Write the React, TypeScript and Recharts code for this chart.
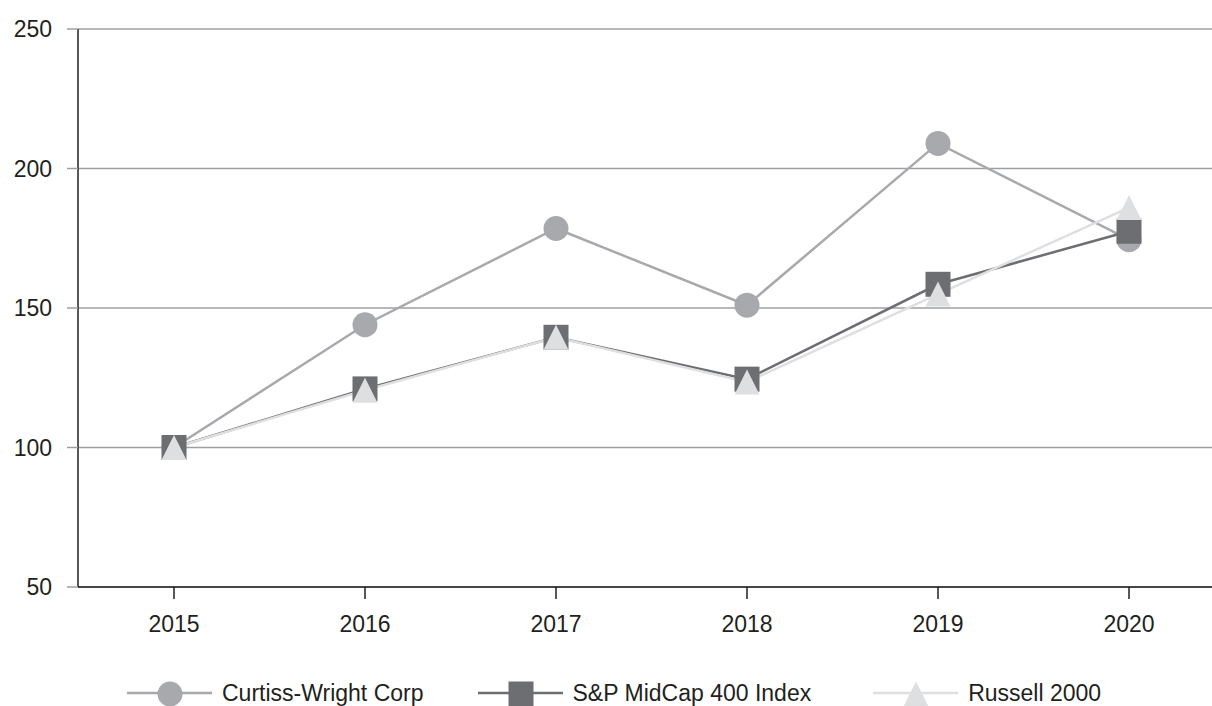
import { LineChart, Line, XAxis, YAxis, CartesianGrid, Legend } from "recharts";

const YEARS = ["2015", "2016", "2017", "2018", "2019", "2020"];
const CURTISS = [100, 144, 178.5, 151, 209, 174.5];
const MIDCAP = [100, 121, 139.5, 124.5, 158.5, 177.5];
const RUSSELL = [100, 120.5, 139.5, 123.5, 155, 186];
const Y_TICKS = [50, 100, 150, 200, 250];

const SERIES = [
  { key: "curtiss", name: "Curtiss-Wright Corp", color: "#a7a9ac", shape: "circle", gap: 0 },
  { key: "midcap", name: "S&P MidCap 400 Index", color: "#6d6e71", shape: "square", gap: 54 },
  { key: "russell", name: "Russell 2000", color: "#dedfe0", shape: "triangle", gap: 62 },
];

const data = YEARS.map((year, i) => ({
  year,
  curtiss: CURTISS[i],
  midcap: MIDCAP[i],
  russell: RUSSELL[i],
}));

const TEXT = "#231f20";
const FONT = "'Liberation Sans', Arial, sans-serif";

const Marker = ({ shape, cx, cy, color }: { shape: string; cx: number; cy: number; color: string }) => {
  if (shape === "circle") return <circle cx={cx} cy={cy} r={12.5} fill={color} />;
  if (shape === "square") return <rect x={cx - 12.5} y={cy - 12.5} width={25} height={25} fill={color} />;
  return (
    <polygon
      points={`${cx},${cy - 12.5} ${cx - 12.5},${cy + 12.5} ${cx + 12.5},${cy + 12.5}`}
      fill={color}
    />
  );
};

const makeDot = (shape: string, color: string) => (props: any) => {
  const { cx, cy, index } = props;
  if (cx == null || cy == null) return <g key={index} />;
  return <Marker key={index} shape={shape} cx={cx} cy={cy} color={color} />;
};

const renderLegend = () => (
  <div style={{ display: "flex", alignItems: "center", fontFamily: FONT, fontSize: 23, color: TEXT }}>
    {SERIES.map((s) => (
      <div key={s.key} style={{ display: "flex", alignItems: "center", marginLeft: s.gap }}>
        <svg width={85} height={30} style={{ display: "block" }}>
          <line x1={0} y1={15} x2={85} y2={15} stroke={s.color} strokeWidth={2.5} />
          <Marker shape={s.shape} cx={43} cy={16} color={s.color} />
        </svg>
        <span style={{ marginLeft: 10, whiteSpace: "nowrap" }}>{s.name}</span>
      </div>
    ))}
  </div>
);

export default function App() {
  return (
    <div style={{ position: "absolute", left: 0, top: 0, width: 1212, height: 706, overflow: "hidden", background: "#fff" }}>
      <LineChart width={1212} height={706} data={data} margin={{ top: 29, right: 0, bottom: 79, left: 0 }}>
        <CartesianGrid horizontal vertical={false} stroke="#9d9fa2" strokeWidth={1.5} />
        <XAxis
          dataKey="year"
          padding={{ left: 96, right: 83 }}
          height={40}
          axisLine={{ stroke: TEXT, strokeWidth: 1.5 }}
          tickLine={{ stroke: TEXT, strokeWidth: 1.5 }}
          tickSize={12}
          tickMargin={17}
          tick={{ fill: TEXT, fontSize: 23, fontFamily: FONT }}
        />
        <YAxis
          domain={[50, 250]}
          ticks={Y_TICKS}
          width={78}
          axisLine={{ stroke: TEXT, strokeWidth: 1.5 }}
          tickLine={{ stroke: "#9d9fa2", strokeWidth: 1.5 }}
          tickSize={11}
          tickMargin={15}
          tick={{ fill: TEXT, fontSize: 23, fontFamily: FONT }}
        />
        <Legend
          layout="horizontal"
          verticalAlign="middle"
          align="center"
          content={renderLegend}
          wrapperStyle={{ position: "absolute", left: 127, top: 678, width: "auto" }}
        />
        {SERIES.map((s) => (
          <Line
            key={s.key}
            type="linear"
            dataKey={s.key}
            name={s.name}
            stroke={s.color}
            strokeWidth={2.5}
            dot={makeDot(s.shape, s.color)}
            activeDot={false}
            isAnimationActive={false}
          />
        ))}
      </LineChart>
    </div>
  );
}
